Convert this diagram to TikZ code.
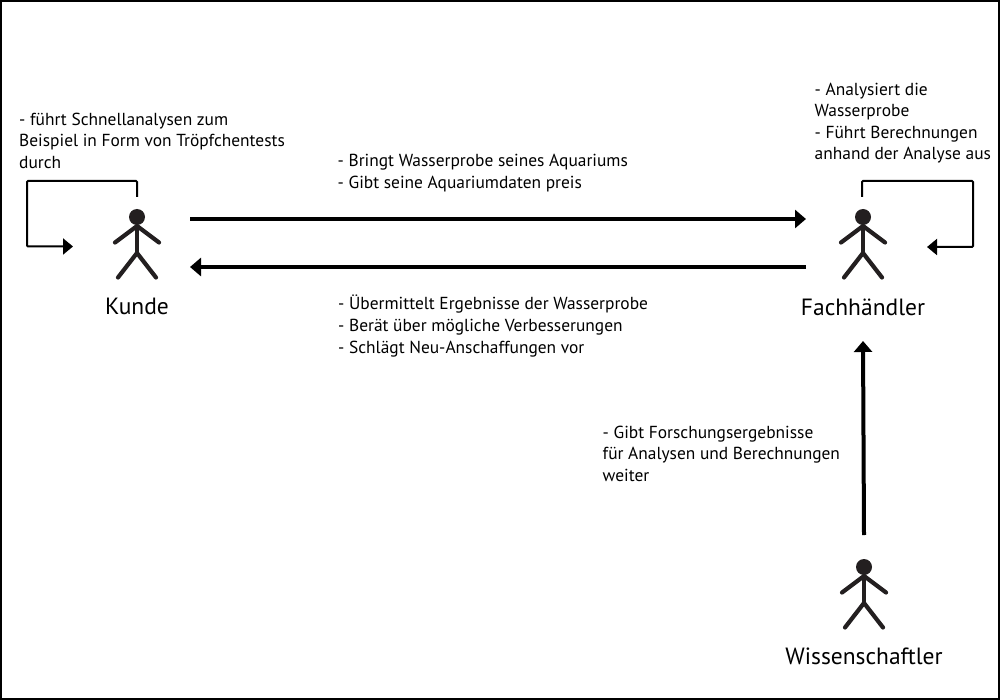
\documentclass[tikz,border=0pt]{standalone}
\usepackage{fontspec}
\setmainfont{PT Sans}
\usetikzlibrary{arrows.meta}
\definecolor{ink}{HTML}{231F20}
\tikzset{
  x=1pt,y=-1pt,
  figbox/.style={minimum width=44pt,minimum height=69pt,inner sep=0pt,outer sep=0pt},
  note/.style={anchor=north west,inner sep=0pt,align=left,font=\fontsize{17.4}{21.6}\selectfont},
  who/.style={anchor=base,inner sep=0pt,font=\fontsize{23.5}{26}\selectfont},
  mainarrow/.style={line width=4pt,-{Triangle[length=11pt,width=18pt]}},
  selfloop/.style={line width=2pt,rounded corners=1pt,-{Triangle[length=10pt,width=16pt]}},
  limb/.style={line width=4.2pt,line cap=round,line join=round,draw=ink}
}
\newcommand{\stick}[3]{%
  \node[figbox] (#1) at (#2,#3) {};
  \fill[ink] ([shift={(0,-26.5)}]#1.center) circle (8pt);
  \draw[limb] ([shift={(0,-17.5)}]#1.center) -- ([shift={(0,9.5)}]#1.center);
  \draw[limb] ([shift={(-22,-1)}]#1.center) -- ([shift={(0,-17.5)}]#1.center) -- ([shift={(22,-1)}]#1.center);
  \draw[limb] ([shift={(-19,34)}]#1.center) -- ([shift={(0,9.5)}]#1.center) -- ([shift={(19,34)}]#1.center);
}
\begin{document}
\begin{tikzpicture}
\useasboundingbox (0,0) rectangle (1000,700);
\fill[white] (0,0) rectangle (1000,700);
\draw[line width=2pt,black] (1,1) rectangle (999,699);
\stick{kunde}{137}{243.5}
\stick{haendler}{863}{243.5}
\stick{forscher}{864}{593.5}
\node[who] (lk) at (137,314) {Kunde};
\node[who] (lh) at (863,315) {Fachhändler};
\node[who] (lf) at (864,664) {Wissenschaftler};
\node[note] (n1) at (19,112.5) {- führt Schnellanalysen zum\\Beispiel in Form von Tröpfchentests\\durch};
\node[note] (n2) at (814.5,82.5) {- Analysiert die\\Wasserprobe\\- Führt Berechnungen\\anhand der Analyse aus};
\node[note] (n3) at (337.5,154) {- Bringt Wasserprobe seines Aquariums\\- Gibt seine Aquariumdaten preis};
\node[note] (n4) at (338,295) {- Übermittelt Ergebnisse der Wasserprobe\\- Berät über mögliche Verbesserungen\\- Schlägt Neu-Anschaffungen vor};
\node[note] (n5) at (602.5,425.5) {- Gibt Forschungsergebnisse\\für Analysen und Berechnungen\\weiter};
\draw[mainarrow] ([shift={(31,-24.5)}]kunde.east) -- ([shift={(-35,-24.5)}]haendler.west);
\draw[mainarrow] ([shift={(-35,23.5)}]haendler.west) -- ([shift={(31,23.5)}]kunde.east);
\draw[mainarrow] ([shift={(0,-24)}]forscher.north) -- ([shift={(0,63)}]haendler.south);
\draw[selfloop] ([shift={(0,-12)}]kunde.north) -- ++(0,-16) -- ++(-110,0) -- ++(0,65.5) -- ++(46,0);
\draw[selfloop] ([shift={(-1,-12)}]haendler.north) -- ++(0,-16) -- ++(111,0) -- ++(0,66) -- ++(-46,0);
\end{tikzpicture}
\end{document}
